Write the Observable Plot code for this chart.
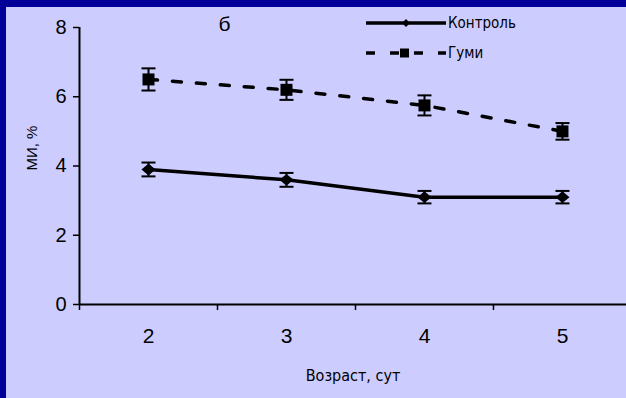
<!DOCTYPE html>
<html>
<head>
<meta charset="utf-8">
<script src="https://cdn.jsdelivr.net/npm/d3@7"></script>
<script src="https://cdn.jsdelivr.net/npm/@observablehq/plot@0.6"></script>
<style>
  html, body { margin: 0; padding: 0; background: #CCCCFF; }
  #wrap {
    position: relative; width: 626px; height: 398px; box-sizing: border-box;
    background: #CCCCFF; border-top: 7px solid #000099; border-left: 6px solid #000099;
    overflow: hidden;
  }
  #wrap svg { display: block; }
  #legend { position: absolute; left: 0; top: 0; }
  .narrow text, text.narrow { font-family: 'Liberation Sans Narrow', 'Arial Narrow', 'DejaVu Sans Condensed', sans-serif; font-stretch: condensed; }
</style>
</head>
<body>
<div id="wrap"></div>
<script>
const days = [2, 3, 4, 5];
const control = [3.9, 3.6, 3.1, 3.1];
const controlErr = [0.2, 0.2, 0.18, 0.18];
const gumi = [6.5, 6.2, 5.75, 5.0];
const gumiErr = [0.32, 0.29, 0.29, 0.24];
const seriesNames = ["Контроль", "Гуми"];
const yTicks = [0, 2, 4, 6, 8];
const xBoundaries = [1.5, 2.5, 3.5, 4.5];
const xLabel = "Возраст, сут";
const yLabel = "МИ, %";
const panelLabel = "б";

const controlRows = days.map((d, i) => ({day: d, v: control[i], e: controlErr[i]}));
const gumiRows = days.map((d, i) => ({day: d, v: gumi[i], e: gumiErr[i]}));
const allRows = controlRows.concat(gumiRows);

const cap = {draw(ctx, size) { const r = Math.sqrt(size / Math.PI); ctx.moveTo(-r, 0); ctx.lineTo(r, 0); }};
const diamond = {draw(ctx, size) { const r = Math.sqrt(size / Math.PI); ctx.moveTo(0, -r * 0.85); ctx.lineTo(r, 0); ctx.lineTo(0, r * 0.85); ctx.lineTo(-r, 0); ctx.closePath(); }};
const square = {draw(ctx, size) { const r = Math.sqrt(size / Math.PI); ctx.rect(-r, -r, 2 * r, 2 * r); }};

const font = "'Liberation Sans', Arial, sans-serif";

const chart = Plot.plot({
  width: 620, height: 391,
  marginLeft: 73, marginRight: 0, marginTop: 20, marginBottom: 94,
  x: {domain: [1.5, 5.464], axis: null},
  y: {domain: [0, 8], axis: null},
  style: {background: "transparent", color: "black", fontFamily: font, overflow: "visible"},
  marks: [
    Plot.axisY({ticks: yTicks, tickSize: 6, tickPadding: 7, fontSize: 20, strokeWidth: 1.5, label: null}),
    Plot.axisX({ticks: xBoundaries, tickSize: 6, tickFormat: () => "", strokeWidth: 1.5, label: null}),
    Plot.axisX({ticks: days, tickSize: 0, tickPadding: 24, fontSize: 21, tickFormat: "d", label: null}),
    Plot.ruleX([1.5], {y1: 0, y2: 8, strokeWidth: 2}),
    Plot.ruleY([0], {strokeWidth: 2}),
    Plot.ruleX(allRows, {x: "day", y1: d => d.v - d.e, y2: d => d.v + d.e, strokeWidth: 2}),
    Plot.dot(allRows, {x: "day", y: d => d.v - d.e, symbol: cap, r: 7, stroke: "black", strokeWidth: 2, fill: "none"}),
    Plot.dot(allRows, {x: "day", y: d => d.v + d.e, symbol: cap, r: 7, stroke: "black", strokeWidth: 2, fill: "none"}),
    Plot.line(controlRows, {x: "day", y: "v", stroke: "black", strokeWidth: 3.5}),
    Plot.line(gumiRows, {x: "day", y: "v", stroke: "black", strokeWidth: 3.5, strokeDasharray: "9,15"}),
    Plot.dot(controlRows, {x: "day", y: "v", symbol: diamond, r: 7, fill: "black", stroke: "none"}),
    Plot.dot(gumiRows, {x: "day", y: "v", symbol: square, r: 6, fill: "black", stroke: "none"}),
    Plot.text([yLabel], {frameAnchor: "left", dx: -47, dy: 4.5, rotate: -90, fontSize: 15, fill: "black"}),
    Plot.text([xLabel], {frameAnchor: "bottom", dx: 0, dy: 71, fontSize: 16, lineAnchor: "middle", fill: "black", className: "narrow"}),
    Plot.text([panelLabel], {frameAnchor: "top-left", dx: 139, dy: -3, fontSize: 21, lineAnchor: "middle", fill: "black"})
  ]
});
document.getElementById("wrap").appendChild(chart);

// Legend overlay
const leg = d3.select("#wrap").append("svg").attr("id", "legend").attr("width", 620).attr("height", 80)
  .style("font-family", font);
const items = [
  {name: seriesNames[0], y: 16, dash: null, sym: "diamond"},
  {name: seriesNames[1], y: 46, dash: "9,15", sym: "square"}
];
items.forEach(it => {
  const g = leg.append("g");
  g.append("line").attr("x1", 360).attr("x2", 440).attr("y1", it.y).attr("y2", it.y)
    .attr("stroke", "black").attr("stroke-width", 3.5).attr("stroke-dasharray", it.dash);
  if (it.sym === "diamond") {
    g.append("path").attr("d", `M400,${it.y - 4}L404,${it.y}L400,${it.y + 4}L396,${it.y}Z`).attr("fill", "black");
  } else {
    g.append("rect").attr("x", 394).attr("y", it.y - 4.5).attr("width", 9).attr("height", 9).attr("fill", "black");
  }
  g.append("text").attr("class", "narrow").attr("x", 442).attr("y", it.y).attr("dy", "0.35em").attr("font-size", 15).text(it.name);
});
</script>
</body>
</html>
